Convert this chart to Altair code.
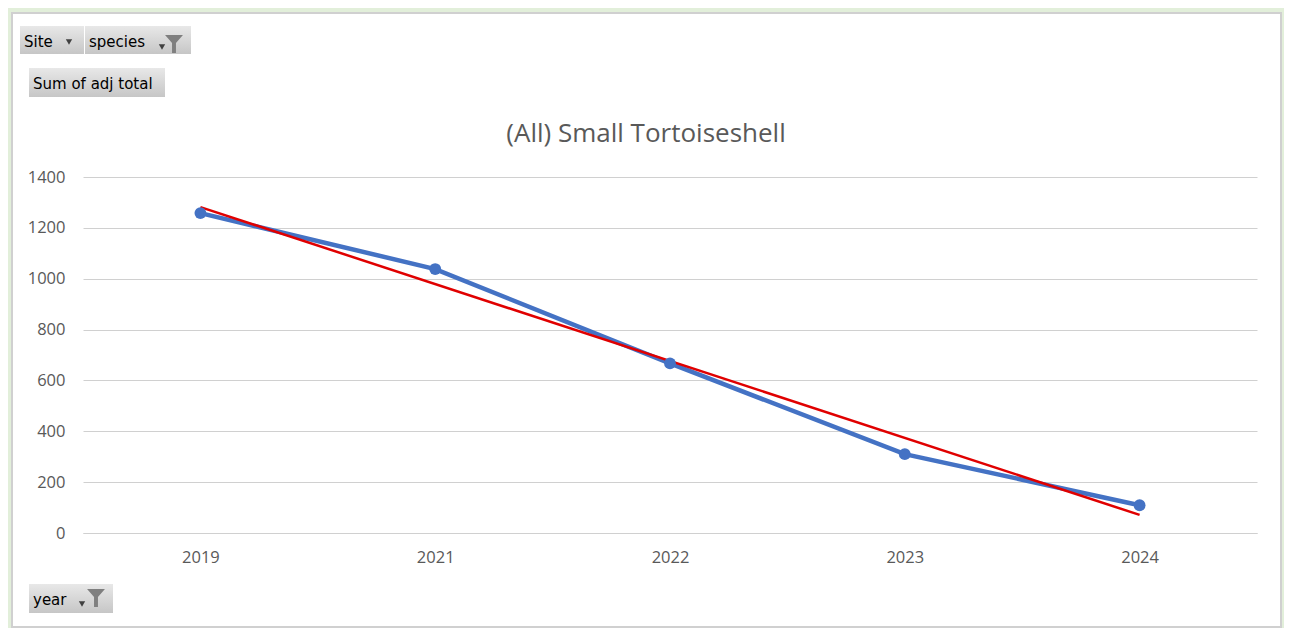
import altair as alt
import pandas as pd

# ---- data ----
years = ["2019", "2021", "2022", "2023", "2024"]
adj_total = [1258, 1038, 667, 310, 109]
title_text = "(All) Small Tortoiseshell"
y_ticks = [0, 200, 400, 600, 800, 1000, 1200, 1400]

# pivot-chart field buttons (decoration)
btn_labels = ["Site", "species", "Sum of adj total", "year"]
btn_x = [-63, 2, -54, -54]
btn_x2 = [1, 108, 82, 30]
btn_y = [-151, -151, -109, 407]
btn_y2 = [-123, -123, -80, 436]
btn_tx = [-59, 6, -50, -50]
btn_ty = [-135, -135, -93, 423]
arrow_x = [-14, 79, -1]
arrow_y = [-135, -130, 427]
funnel_x = [91, 13]
funnel_y = [-133, 421]

W, H = 1174, 356
PAD = {"left": 75, "top": 169, "right": 27, "bottom": 95}

df = pd.DataFrame({"idx": list(range(1, len(years) + 1)), "year": years, "value": adj_total})

label_expr = "[" + ",".join(f"'{y}'" for y in years) + "][datum.value - 1]"

x_enc = alt.X(
    "idx:Q",
    scale=alt.Scale(domain=[0.5, len(years) + 0.5], nice=False, zero=False),
    axis=alt.Axis(
        values=list(range(1, len(years) + 1)),
        labelExpr=label_expr,
        title=None,
        grid=False,
        ticks=False,
        domain=True,
        domainColor="#d0d0d0",
        labelColor="#595959",
        labelFont="Open Sans",
        labelFontSize=16.5,
        labelPadding=16,
    ),
)
y_enc = alt.Y(
    "value:Q",
    scale=alt.Scale(domain=[0, 1400], nice=False),
    axis=alt.Axis(
        values=y_ticks,
        format="d",
        title=None,
        grid=True,
        gridColor="#d0d0d0",
        ticks=False,
        domain=False,
        labelColor="#595959",
        labelFont="Open Sans",
        labelFontSize=16.5,
        labelPadding=18,
    ),
)

base = alt.Chart(df)

line = base.mark_line(color="#4472c4", strokeWidth=4.5).encode(x=x_enc, y=y_enc)
pts = base.mark_circle(color="#4472c4", size=140, opacity=1).encode(x="idx:Q", y="value:Q")
trend = base.transform_regression("idx", "value", method="linear").mark_line(
    color="#e00000", strokeWidth=2.5
).encode(x="idx:Q", y="value:Q")

# green outer frame and grey panel border
frame = base.mark_rect(fill="transparent", stroke="#e2efda", strokeWidth=12).encode(
    x=alt.value(-77), x2=alt.value(1204), y=alt.value(-170), y2=alt.value(456)
).transform_filter("datum.idx == 1")
border = base.mark_rect(fill="transparent", stroke="#d0d0d0", strokeWidth=2).encode(
    x=alt.value(-71), x2=alt.value(1198), y=alt.value(-164), y2=alt.value(450)
).transform_filter("datum.idx == 1")

title = base.mark_text(
    text=title_text, font="Open Sans", fontSize=26, color="#595959", align="center", baseline="middle"
).encode(x=alt.value(563), y=alt.value(-43)).transform_filter("datum.idx == 1")

btn_df = pd.DataFrame({
    "label": btn_labels, "x": btn_x, "x2": btn_x2, "y": btn_y, "y2": btn_y2,
    "tx": btn_tx, "ty": btn_ty,
})
grad = alt.Gradient(
    gradient="linear",
    stops=[alt.GradientStop(color="#e8e8e8", offset=0), alt.GradientStop(color="#c6c6c6", offset=1)],
    x1=0, x2=0, y1=0, y2=1,
)
btn_base = alt.Chart(btn_df)
btn_rect = btn_base.mark_rect(fill=grad).encode(
    x=alt.X("x:Q", scale=None), x2="x2:Q", y=alt.Y("y:Q", scale=None), y2="y2:Q"
)
btn_text = btn_base.mark_text(
    font="DejaVu Sans", fontSize=15, color="#000000", align="left", baseline="middle"
).encode(x=alt.X("tx:Q", scale=None), y=alt.Y("ty:Q", scale=None), text="label:N")

arrow_df = pd.DataFrame({"x": arrow_x, "y": arrow_y})
arrows = alt.Chart(arrow_df).mark_point(
    shape="triangle-down", filled=True, color="#404040", size=40, opacity=1
).encode(x=alt.X("x:Q", scale=None), y=alt.Y("y:Q", scale=None))

funnel_df = pd.DataFrame({"x": funnel_x, "y": funnel_y})
funnels = alt.Chart(funnel_df).mark_point(
    shape="M-1,-1 L1,-1 L0.22,-0.1 L0.22,1 L-0.22,1 L-0.22,-0.1 Z",
    filled=True, color="#7f7f7f", size=320, opacity=1,
).encode(x=alt.X("x:Q", scale=None), y=alt.Y("y:Q", scale=None))

chart = alt.layer(
    line, trend, pts, title, frame, border, btn_rect, btn_text, arrows, funnels
).properties(
    width=W, height=H, padding=PAD, background="white",
    autosize=alt.AutoSizeParams(type="none"),
).configure_view(stroke=None).resolve_scale(x="shared", y="shared")

chart.save("out.html", embed_options={"renderer": "svg", "actions": False})
